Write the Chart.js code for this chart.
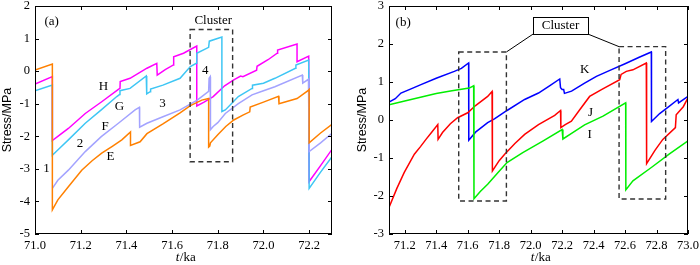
<!DOCTYPE html>
<html><head><meta charset="utf-8">
<script src="https://cdn.jsdelivr.net/npm/chart.js@4/dist/chart.umd.min.js"></script>
<style>
html,body{margin:0;padding:0;background:#fff;overflow:hidden}
#wrap{position:relative;width:700px;height:265px}
.c{position:absolute;top:0;width:350px;height:265px}
</style></head>
<body><div id="wrap">
<div class="c" style="left:0"><canvas id="ca" width="350" height="265"></canvas></div>
<div class="c" style="left:350px"><canvas id="cb" width="350" height="265"></canvas></div>
</div>
<script>
// ---------- Panel (a) data ----------
const tE = [71.0,71.076,71.076,71.10,71.146,71.2045,71.25,71.292,71.34,71.38,71.418,71.418,71.46,71.49,71.56,71.635,71.68,71.73,71.76,71.76,71.765,71.768,71.80,71.835,71.87,71.91,71.94,71.942,72.0,72.066,72.068,72.147,72.195,72.20,72.20,72.25,72.3];
const sE = [0.03,0.22,-4.26,-3.95,-3.55,-3.04,-2.75,-2.52,-2.3,-2.11,-1.87,-2.28,-2.17,-1.92,-1.62,-1.28,-1.06,-0.89,-0.84,-2.33,-2.3,-2.2,-1.95,-1.7,-1.5,-1.35,-1.25,-1.1,-0.95,-0.77,-1.0,-0.84,-0.6,-0.56,-2.2,-1.9,-1.63];

const tH = [71.0,71.076,71.076,71.11,71.146,71.22,71.292,71.365,71.372,71.373,71.416,71.49,71.533,71.535,71.57,71.606,71.607,71.65,71.708,71.708,71.74,71.78,71.83,71.87,71.90,71.91,71.97,71.972,72.02,72.06,72.062,72.147,72.147,72.198,72.2,72.25,72.3];
const sH = [-0.4,-0.17,-2.13,-1.95,-1.76,-1.3,-0.94,-0.56,-0.53,-0.32,-0.22,0.09,0.24,-0.12,0.05,0.19,0.44,0.55,0.77,-1.07,-0.95,-0.78,-0.45,-0.27,-0.15,-0.17,0.03,0.15,0.35,0.55,0.65,0.83,0.29,0.46,-3.39,-2.9,-2.4];

const tG = [71.0,71.076,71.076,71.11,71.146,71.22,71.29,71.358,71.37,71.372,71.416,71.487,71.489,71.504,71.506,71.56,71.635,71.68,71.706,71.708,71.76,71.763,71.818,71.818,71.833,71.89,71.95,71.952,72.0,72.05,72.14,72.142,72.198,72.2,72.25,72.3];
const sG = [-0.6,-0.43,-2.58,-2.35,-2.11,-1.6,-1.19,-0.78,-0.72,-0.6,-0.53,-0.15,-0.7,-0.63,-0.55,-0.43,-0.22,0.14,0.24,0.55,0.73,0.92,1.05,-1.24,-1.19,-0.78,-0.53,-0.43,-0.37,-0.22,0.09,0.19,0.34,-3.6,-3.1,-2.63];

const tF = [71.076,71.10,71.146,71.22,71.29,71.365,71.438,71.457,71.458,71.49,71.56,71.635,71.71,71.76,71.762,71.767,71.768,71.78,71.80,71.833,71.89,71.95,72.0,72.05,72.17,72.172,72.197,72.2,72.25,72.3];
const sF = [-3.6,-3.35,-3.04,-2.47,-2.01,-1.6,-1.19,-1.11,-1.72,-1.6,-1.4,-1.19,-0.89,-0.62,-0.22,-0.17,-1.8,-1.7,-1.58,-1.3,-1.0,-0.73,-0.6,-0.48,-0.12,-0.37,-0.25,-2.47,-2.2,-1.91];

const xTicksA = [71.0,71.2,71.4,71.6,71.8,72.0,72.2];
const yTicksA = [-5,-4,-3,-2,-1,0,1,2];

// ---------- Panel (b) data ----------
const tK = [71.1,71.14,71.176,71.24,71.303,71.40,71.515,71.56,71.606,71.607,71.65,71.727,71.77,71.85,71.962,72.05,72.12,72.185,72.19,72.20,72.21,72.215,72.26,72.343,72.418,72.5,72.6,72.69,72.767,72.768,72.82,72.88,72.936,72.94,73.0];
const sK = [0.47,0.56,0.71,0.82,0.93,1.1,1.28,1.36,1.5,-0.53,-0.32,-0.07,0.03,0.25,0.54,0.71,0.9,1.08,0.85,0.8,0.8,0.7,0.76,0.97,1.15,1.3,1.48,1.65,1.79,-0.04,0.17,0.36,0.54,0.45,0.62];

const tJ = [71.1,71.15,71.197,71.261,71.30,71.335,71.37,71.41,71.412,71.44,71.49,71.536,71.6,71.65,71.727,71.755,71.757,71.80,71.835,71.90,71.962,72.05,72.153,72.19,72.192,72.22,72.259,72.312,72.375,72.45,72.566,72.575,72.608,72.65,72.735,72.737,72.79,72.84,72.92,72.925,72.97,73.0];
const sJ = [-2.3,-1.8,-1.38,-0.9,-0.7,-0.51,-0.33,-0.12,-0.51,-0.33,-0.1,0.06,0.19,0.38,0.62,0.75,-1.34,-1.07,-0.9,-0.62,-0.38,-0.12,0.12,0.25,-0.2,-0.12,-0.03,0.27,0.62,0.8,1.06,1.2,1.28,1.32,1.5,-1.15,-0.8,-0.51,-0.2,0.14,0.35,0.58];

const tI = [71.1,71.2,71.3,71.4,71.5,71.61,71.638,71.64,71.68,71.727,71.793,71.85,71.95,72.08,72.2,72.205,72.26,72.343,72.46,72.604,72.605,72.65,72.767,72.88,73.0];
const sI = [0.4,0.5,0.6,0.7,0.77,0.84,0.9,-2.07,-1.88,-1.69,-1.38,-1.12,-0.86,-0.55,-0.25,-0.5,-0.35,-0.13,0.1,0.45,-1.84,-1.6,-1.25,-0.9,-0.55];

const xTicksB = [71.2,71.4,71.6,71.8,72.0,72.2,72.4,72.6,72.8,73.0];
const yTicksB = [-3,-2,-1,0,1,2,3];

// ---------- helpers ----------
const pts = (t, s) => t.map((x, i) => ({x: x, y: s[i]}));
const SERIF = "'Liberation Serif','Times New Roman',serif";
const SANS = "'Liberation Sans',Arial,sans-serif";

function ds(label, t, s, color) {
  return {label, data: pts(t, s), borderColor: color, backgroundColor: color,
          borderWidth: 1.5, pointRadius: 0, tension: 0, fill: false};
}

function decoPlugin(cfg) {
  return {
    id: 'deco',
    afterDatasetsDraw(chart) {
      const ctx = chart.ctx, a = chart.chartArea;
      const xs = chart.scales.x, ys = chart.scales.y;
      const X = v => xs.getPixelForValue(v), Y = v => ys.getPixelForValue(v);
      ctx.save();
      // frame
      ctx.strokeStyle = '#000'; ctx.lineWidth = 1;
      ctx.strokeRect(Math.round(a.left) + 0.5, Math.round(a.top) + 0.5,
                     Math.round(a.right - a.left) - 1, Math.round(a.bottom - a.top) - 1);
      // inward ticks
      const tl = 4;
      ctx.beginPath();
      xs.ticks.forEach(tk => {
        const px = Math.round(X(tk.value)) + 0.5;
        ctx.moveTo(px, a.bottom); ctx.lineTo(px, a.bottom - tl);
        ctx.moveTo(px, a.top); ctx.lineTo(px, a.top + tl);
      });
      ys.ticks.forEach(tk => {
        const py = Math.round(Y(tk.value)) + 0.5;
        ctx.moveTo(a.left, py); ctx.lineTo(a.left + tl, py);
        ctx.moveTo(a.right, py); ctx.lineTo(a.right - tl, py);
      });
      ctx.stroke();
      // dashed cluster boxes
      ctx.strokeStyle = '#333'; ctx.lineWidth = 1.4; ctx.setLineDash([5, 3.5]);
      cfg.boxes.forEach(b => {
        ctx.strokeRect(X(b[0]), Y(b[3]), X(b[1]) - X(b[0]), Y(b[2]) - Y(b[3]));
      });
      ctx.setLineDash([]);
      // label box (b)
      if (cfg.labelBox) {
        const lb = cfg.labelBox;
        ctx.lineWidth = 1; ctx.strokeStyle = '#000';
        ctx.beginPath();
        lb.lines.forEach(l => { ctx.moveTo(X(l[0]), Y(l[1])); ctx.lineTo(X(l[2]), Y(l[3])); });
        ctx.stroke();
        ctx.fillStyle = '#fff';
        const bx = X(lb.x0), by = Y(lb.y1), bw = X(lb.x1) - X(lb.x0), bh = Y(lb.y0) - Y(lb.y1);
        ctx.fillRect(bx, by, bw, bh);
        ctx.strokeRect(Math.round(bx) + 0.5, Math.round(by) + 0.5, Math.round(bw), Math.round(bh));
      }
      // text labels
      ctx.fillStyle = '#000'; ctx.textAlign = 'center'; ctx.textBaseline = 'middle';
      cfg.texts.forEach(t => {
        ctx.font = (t[3] || 13) + 'px ' + SERIF;
        ctx.fillText(t[0], X(t[1]), Y(t[2]));
      });
      // axis titles
      ctx.font = '12.5px ' + SANS;
      ctx.save();
      ctx.translate(cfg.yTitleX, (a.top + a.bottom) / 2);
      ctx.rotate(-Math.PI / 2);
      ctx.fillText('Stress/MPa', 0, 0);
      ctx.restore();
      const fI = 'italic 13px ' + SERIF, fN = '13px ' + SERIF;
      ctx.font = fI; const w1 = ctx.measureText('t').width;
      ctx.font = fN; const w2 = ctx.measureText('/ka').width;
      const cx = (a.left + a.right) / 2 + 2, ty = cfg.xTitleY;
      ctx.textAlign = 'left';
      ctx.font = fI; ctx.fillText('t', cx - (w1 + w2) / 2, ty);
      ctx.font = fN; ctx.fillText('/ka', cx - (w1 + w2) / 2 + w1 + 0.5, ty);
      ctx.restore();
    }
  };
}

function makeChart(id, datasets, xr, yr, xTicks, yTicks, yWidth, pad, deco) {
  const fitX = s => { s.height = 31; s.paddingLeft = s.paddingRight = s.paddingTop = s.paddingBottom = 0; };
  const fitY = s => { s.width = yWidth; s.paddingLeft = s.paddingRight = s.paddingTop = s.paddingBottom = 0; };
  return new Chart(document.getElementById(id), {
    type: 'line',
    data: {datasets},
    options: {
      responsive: false, animation: false, devicePixelRatio: 1,
      layout: {padding: pad},
      plugins: {legend: {display: false}, tooltip: {enabled: false}},
      scales: {
        x: {type: 'linear', min: xr[0], max: xr[1],
            grid: {display: false, drawTicks: false}, border: {display: false},
            afterBuildTicks: s => { s.ticks = xTicks.map(v => ({value: v})); },
            afterFit: fitX,
            ticks: {color: '#000', padding: 4, maxRotation: 0, autoSkip: false,
                    font: {family: SERIF, size: 12.5},
                    callback: v => Number(v).toFixed(1)}},
        y: {type: 'linear', min: yr[0], max: yr[1],
            grid: {display: false, drawTicks: false}, border: {display: false},
            afterBuildTicks: s => { s.ticks = yTicks.map(v => ({value: v})); },
            afterFit: fitY,
            ticks: {color: '#000', padding: 5, autoSkip: false,
                    font: {family: SERIF, size: 12.5},
                    callback: v => String(v)}}
      }
    },
    plugins: [decoPlugin(deco)]
  });
}

makeChart('ca', [
  ds('E', tE, sE, '#ff8000'),
  ds('F', tF, sF, '#a3a3ff'),
  ds('G', tG, sG, '#3ec6f4'),
  ds('H', tH, sH, '#ff00ff')
], [71.0, 72.3], [-5, 2], xTicksA, yTicksA, 35, {left: 0, right: 18, top: 6, bottom: 0}, {
  boxes: [[71.679, 71.865, -2.78, 1.28]],
  texts: [['Cluster', 71.78, 1.55], ['(a)', 71.073, 1.52], ['H', 71.30, -0.46], ['G', 71.37, -1.09],
          ['F', 71.307, -1.7], ['E', 71.33, -2.63], ['1', 71.05, -2.98], ['2', 71.197, -2.22],
          ['3', 71.558, -1.0], ['4', 71.745, 0.01]],
  yTitleX: 8, xTitleY: 258
});

makeChart('cb', [
  ds('I', tI, sI, '#00ee00'),
  ds('J', tJ, sJ, '#ff0000'),
  ds('K', tK, sK, '#0000ff')
], [71.1, 73.0], [-3, 3], xTicksB, yTicksB, 39, {left: 0, right: 12, top: 6, bottom: 0}, {
  boxes: [[71.543, 71.846, -2.13, 1.79], [72.562, 72.858, -2.08, 1.93]],
  labelBox: {x0: 72.015, x1: 72.365, y0: 2.26, y1: 2.72,
             lines: [[72.015, 2.26, 71.846, 1.79], [72.365, 2.26, 72.562, 1.93]]},
  texts: [['Cluster', 72.19, 2.49], ['(b)', 71.19, 2.56], ['K', 72.343, 1.32], ['J', 72.38, 0.19], ['I', 72.375, -0.38]],
  yTitleX: 13, xTitleY: 258
});
</script>
</body></html>
